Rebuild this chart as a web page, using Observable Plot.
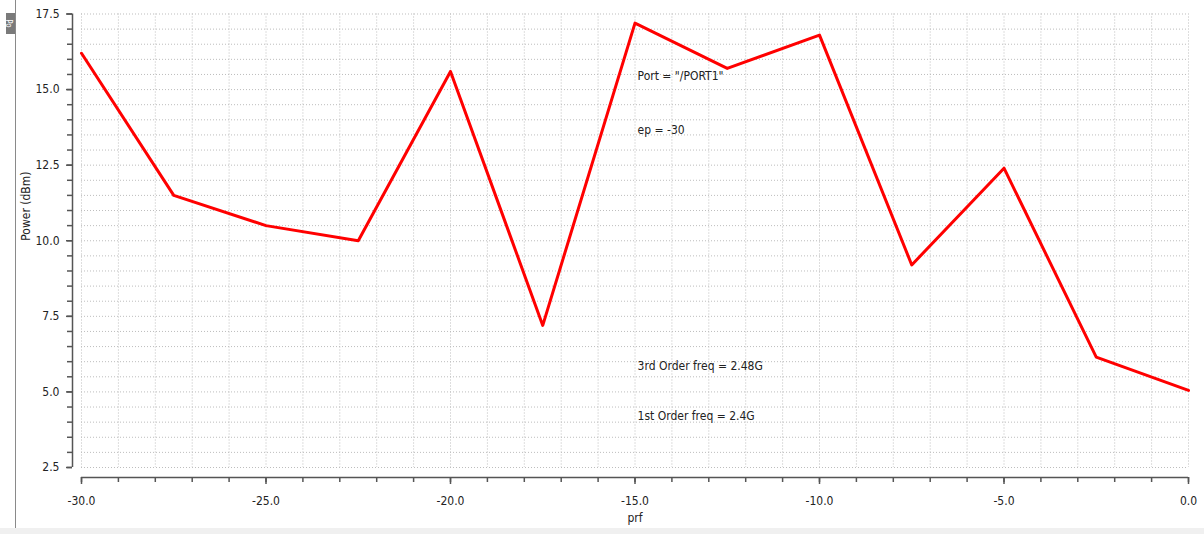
<!DOCTYPE html>
<html>
<head>
<meta charset="utf-8">
<script src="https://cdn.jsdelivr.net/npm/d3@7"></script>
<script src="https://cdn.jsdelivr.net/npm/@observablehq/plot@0.6"></script>
<style>
  html, body { margin: 0; padding: 0; background: #fff; }
  #wrap { position: relative; width: 1204px; height: 534px; overflow: hidden; }
  #leftline { position: absolute; left: 15px; top: 0; width: 1px; height: 528px; background: #8a8a8a; }
  #bottomstrip { position: absolute; left: 0; top: 528px; width: 1204px; height: 6px; background: #f0f0f0; }
  #tag { position: absolute; left: 6px; top: 13px; width: 9px; height: 21px; background: #7a7a7a; }
  #tag span { position: absolute; left: -2px; top: 6px; color: #fff; font: 8px "DejaVu Sans Condensed"; line-height: 9px; transform: rotate(90deg); white-space: nowrap; }
</style>
</head>
<body>
<div id="wrap"><div id="leftline"></div><div id="bottomstrip"></div><div id="tag"><span>Po</span></div></div>
<script>
// Data
const prf = [-30, -27.5, -25, -22.5, -20, -17.5, -15, -12.5, -10, -7.5, -5, -2.5, 0];
const power = [16.2, 11.5, 10.5, 10.0, 15.6, 7.2, 17.2, 15.7, 16.8, 9.2, 12.4, 6.15, 5.05];

const annText = ['Port = "/PORT1"', 'ep = -30', '3rd Order freq = 2.48G', '1st Order freq = 2.4G'];
const annX = [-14.93, -14.93, -14.93, -14.93];
const annY = [15.45, 13.67, 5.86, 4.2];

const xMajorTicks = [-30, -25, -20, -15, -10, -5, 0];
const xMinorTicks = d3.range(-30, 0.001, 1);
const yMajorTicks = [2.5, 5, 7.5, 10, 12.5, 15, 17.5];
const yMinorTicks = d3.range(2.5, 17.501, 0.5);

const series = prf.map((x, i) => ({x, y: power[i]}));
const ann = annText.map((t, i) => ({t, x: annX[i], y: annY[i]}));

const font = "DejaVu Sans Condensed";
const chart = Plot.plot({
  width: 1204,
  height: 534,
  marginLeft: 81,
  marginRight: 16,
  marginTop: 13.5,
  marginBottom: 67,
  style: {fontFamily: font, fontSize: "12px", background: "transparent", overflow: "visible"},
  x: {domain: [-30, 0], axis: null},
  y: {domain: [2.5, 17.5], axis: null},
  marks: [
    Plot.gridX(xMinorTicks, {stroke: "#bdbdbd", strokeOpacity: 1, strokeDasharray: "1,2"}),
    Plot.gridY(yMinorTicks, {stroke: "#bdbdbd", strokeOpacity: 1, strokeDasharray: "1,2"}),
    // y axis
    Plot.ruleX([-30], {dx: -9, stroke: "#555", strokeWidth: 1.5}),
    Plot.axisY(yMinorTicks, {tickSize: 5, dx: -9, text: null, label: null, stroke: "#555", strokeWidth: 1.5}),
    Plot.axisY(yMajorTicks, {tickSize: 6, dx: -9, tickPadding: 7, label: null, fill: "#222", stroke: "#555", strokeWidth: 1.5, tickFormat: d => d.toFixed(1), fontSize: 12}),
    // x axis
    Plot.ruleY([2.5], {dy: 10, stroke: "#555", strokeWidth: 1.5}),
    Plot.axisX(xMinorTicks, {tickSize: 5, dy: 10, text: null, label: null, stroke: "#555", strokeWidth: 1.5}),
    Plot.axisX(xMajorTicks, {tickSize: 7, dy: 10, tickPadding: 12, label: null, fill: "#222", stroke: "#555", strokeWidth: 1.5, tickFormat: d => d.toFixed(1), fontSize: 12}),
    // axis titles
    Plot.text(["Power (dBm)"], {frameAnchor: "left", rotate: -90, dx: -55, fill: "#222", fontSize: 12}),
    Plot.text(["prf"], {frameAnchor: "bottom", dy: 54, fill: "#222", fontSize: 12}),
    // series
    Plot.line(series, {x: "x", y: "y", stroke: "#ff0000", strokeWidth: 3}),
    // annotations
    Plot.text(ann, {x: "x", y: "y", text: "t", textAnchor: "start", fill: "#222", fontSize: 12})
  ]
});
chart.style.position = "absolute";
chart.style.left = "0px";
chart.style.top = "0px";
document.getElementById("wrap").appendChild(chart);
</script>
</body>
</html>
